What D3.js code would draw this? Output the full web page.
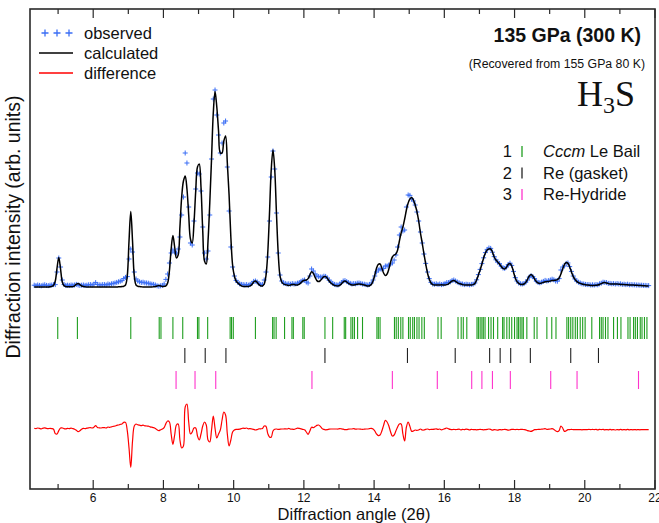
<!DOCTYPE html>
<html>
<head>
  <meta charset="utf-8" />
  <title>H3S 135 GPa Le Bail fit</title>
  <script src="https://d3js.org/d3.v7.min.js"></script>
  <style>
    body { margin: 0; background: #fff; }
    svg { display: block; font-family: "Liberation Sans", Arial, sans-serif; }
  </style>
</head>
<body>
  <svg id="chart" width="659" height="523"></svg>

  <script>
    // scan: first angle and step (deg 2θ); one value per step below
    const angleStart = 4.32;
    const angleStep = 0.05;

    // calculated profile (arb. units), one row per degree
    const calculated = [
      0,0,0,0,0,0,0,0,0,0.1,0.3,0.8,3,9.5,14.8,9,2.5,0.6,0.2,0.1,
      0.1,0.1,0.2,0.6,1.4,1.8,1.2,0.5,0.2,0.1,0,0,0,0,0,0,0,0,0,0,
      0,0,0,0,0,0,0,0,0.1,0.1,0.2,0.4,1.0,5.5,23,37.7,23,5.5,1.0,0.4,
      0.2,0.1,0,0,0,0,0,0,0.1,0.2,0.5,0.7,0.5,0.3,0.3,0.6,2,8,19,25.7,
      20,14.5,16,30,45,53,55.5,49,36,24,22,32,48,60,61.5,50,28,13,11.5,23,
      42,64,87,97.7,90,78,67,67,73,75.5,62,46,25,11,5.5,3,2,1.2,0.6,0.3,
      0.2,0.2,0.3,0.6,1.3,2.5,3,2.3,1.2,0.6,0.5,1.5,5.6,16.7,36.5,58.6,68.5,58.6,36.5,16.7,
      5.6,2.5,1.5,1.2,1,0.8,1,1.3,1.2,1,1,1.4,2.2,3,3.4,3.5,4.2,6,7.6,6.8,
      4.8,3.2,2.7,3.2,4.3,5.1,5.2,4.3,3,2,1.3,0.8,0.6,0.5,0.8,1.6,2.6,3,2.5,1.8,
      1.3,1,1,1.2,1.4,1.5,1.4,1.2,1,0.7,0.5,0.6,1.2,3,6,9.5,11.3,11.5,9.5,7,
      5.7,6.5,9,12.5,15,16,16.5,18.5,23,27,30,34,38.5,42,44,44.7,43.5,41,37.7,33,
      27,22,16.5,11.5,7,4,2,1.2,1,1,1,1,1.1,1,1,1.2,1.6,2.3,3,3.2,
      2.8,2.2,1.7,1.5,1.2,1,1,1,1,1,1.2,1.8,3.5,6,8.5,11.5,14.5,17,18.5,19,
      19,17.5,15,13.5,12.5,11.5,10.3,9.3,9,9.8,11.3,11.8,10.5,7.5,4.5,2.7,1.8,1.3,1.2,1.5,
      2.3,3.8,5.5,6.3,5.5,4,2.7,2,1.8,2,2.3,2.6,2.7,2.8,3,3.2,3.3,3.4,3.7,4.5,
      6.5,9,11.2,12.2,11.8,10,7.5,5.3,3.8,2.8,2.2,1.8,1.5,1.3,1.1,1,0.9,0.8,0.8,0.8,
      0.9,1,1.3,1.7,2.1,2.2,2,1.7,1.5,1.5,1.5,1.5,1.5,1.4,1.3,1.2,1.2,1.1,1.1,1,
      1,1,0.9,0.9,0.8,0.8,0.7,0.6,0.6,0.5,0.5
    ];

    // observed intensities on the same grid
    const observed = [
      0.9,0.7,1.0,0.8,0.6,0.9,1.1,0.8,0.7,0.9,1.0,1.2,1.2,7.5,14.5,10,3.5,1.3,0.8,0.9,
      0.8,1.0,0.9,1.0,1.3,1.0,0.8,0.9,1.0,0.8,0.9,1.1,1.2,1.0,1.4,2.2,1.3,1.1,1.0,1.2,
      1.2,1.0,1.5,1.3,1.6,1.8,2.0,2.3,2.6,2.9,3.2,4.2,4.8,5.2,14,19,17.5,7.5,4,3,
      2.6,2.3,2.4,2.1,2.0,1.9,1.6,1.4,1.3,1.0,0.6,0.4,0.6,0.8,1.5,3.8,6.5,12,17,18.5,
      17.5,17,19,25,36,45,67,62,40,22,21,33,49,57,56.5,48,30,17,14,18,
      36,64,94,98.5,86,76,67,72,82,83,60,38,20,10,5.5,3.3,2.3,1.6,1.3,1.2,
      1.0,1.2,0.9,1.3,1.8,2.8,3.0,2.5,1.8,1.2,1.3,3.5,7.5,15,33,55,68,59,37,17,
      6,3,2,1.8,1.5,1.6,1.4,1.7,1.5,1.6,1.9,2.2,2.8,3.3,3.5,2.5,2.0,5.5,9,8,
      6.5,5.5,5.2,5,5,5.4,5.3,4.5,3.4,2.5,1.8,1.3,1.1,1.0,1.5,2.2,3.0,3.2,2.7,2.2,
      1.8,1.5,1.7,1.6,1.9,2.0,1.8,1.5,1.4,1.2,1.0,1.3,2,3.5,5.5,7.5,8.5,9,9,9.3,
      10.5,10.5,11,11.5,12,13.5,16,20,26,30,28,28.5,40,46,45.8,44,43,41,37.5,33,
      27.5,22,16.5,11.8,7.5,4.2,2.3,1.5,1.4,1.6,1.3,1.5,1.2,1.4,1.7,2.2,2.2,2.6,3.2,3.5,
      3,2.5,2.1,1.6,1.5,1.2,1.4,1.3,1.1,1.3,1.4,2.0,3.6,6.2,8.8,11.7,14.6,17.2,18.8,19.5,
      19.3,17.4,15.2,13.6,12.4,11.7,10.4,9.5,9.3,10,11.2,11.9,10.8,7.8,4.7,3.0,2.0,1.6,1.5,1.7,
      2.4,3.5,5.0,5.6,5.2,4.2,2.9,2.3,2.1,2.4,2.8,3.3,3.0,3.2,3.5,3.9,3.6,3.0,2.9,4.2,
      8.5,10,10.5,11.8,12,10.2,7.8,5.5,4.0,3.0,2.4,2.0,1.6,1.5,1.3,1.2,1.2,1.0,1.1,1.0,
      1.2,1.1,1.6,1.9,2.4,2.3,2.2,1.8,1.8,1.6,1.7,1.5,1.7,1.5,1.6,1.3,1.4,1.2,1.4,1.1,
      1.2,1.1,1.1,1.0,1.0,0.9,0.9,0.8,0.8,0.7,0.7
    ];

    // reflection positions (2θ)
    const cccmPeaks = [
      4.99, 5.55, 7.07, 7.88, 7.93, 8.27, 8.55, 8.97, 9.01, 9.26, 9.90, 9.94, 9.99,
      10.62, 11.11, 11.15, 11.21, 11.45, 11.66, 11.70, 11.97, 12.01, 12.60, 12.82,
      13.15, 13.19, 13.34, 13.39, 13.44, 13.53, 13.67, 14.08, 14.12, 14.17, 14.58,
      14.63, 14.69, 14.76, 14.82, 14.98, 15.03, 15.10, 15.15, 15.22, 15.28, 15.36,
      15.43, 15.82, 15.91, 16.39, 16.48, 16.54, 16.64, 16.93, 16.97, 17.02, 17.07,
      17.11, 17.16, 17.26, 17.33, 17.40, 17.52, 17.66, 17.70, 17.78, 17.85, 17.92,
      18.00, 18.07, 18.11, 18.16, 18.21, 18.25, 18.35, 18.56, 18.64, 18.92, 19.06,
      19.18, 19.49, 19.54, 19.60, 19.66, 19.73, 19.79, 19.87, 19.94, 20.01, 20.20,
      20.42, 20.47, 20.52, 20.59, 20.66, 20.82, 20.93, 21.03, 21.23, 21.29, 21.39,
      21.44, 21.50, 21.58, 21.63, 21.70, 21.77
    ];
    const rePeaks = [8.61, 9.19, 9.78, 12.60, 14.95, 16.31, 17.29, 17.59, 17.89, 18.45, 19.60, 20.39];
    const reHydridePeaks = [8.36, 8.90, 9.49, 12.23, 14.52, 15.80, 16.78, 17.07, 17.37, 17.88, 19.03, 19.78, 21.53];

    const majorTicks = [6, 8, 10, 12, 14, 16, 18, 20, 22];
    const minorTicks = [5, 7, 9, 11, 13, 15, 17, 19, 21];

    const phaseLegend = [
      { num: "1", italic: "Cccm", rest: " Le Bail", color: "#1f9e1f" },
      { num: "2", italic: "", rest: "Re (gasket)", color: "#222" },
      { num: "3", italic: "", rest: "Re-Hydride", color: "#ff33cc" }
    ];

    const obsColor = "#3b6ef5";

    const svg = d3.select("#chart");
    const margin = { top: 9, right: 4, bottom: 34, left: 30 };
    const width = 659, height = 523;
    const innerW = width - margin.left - margin.right;
    const innerH = height - margin.top - margin.bottom;

    const x = d3.scaleLinear().domain([4.2, 22]).range([margin.left, margin.left + innerW]);
    const y = d3.scaleLinear().domain([-101, 139]).range([margin.top + innerH, margin.top]);

    const diffOffset = -71.5;
    const rowBands = [[-15, -26], [-30.5, -38], [-42, -51]];

    const pts = calculated.map((c, i) => ({
      a: angleStart + i * angleStep,
      calc: c,
      obs: observed[i]
    }));

    // observed crosses
    svg.append("g")
      .selectAll("path")
      .data(pts)
      .join("path")
      .attr("transform", d => `translate(${x(d.a)},${y(d.obs)})`)
      .attr("d", "M-2.5,0H2.5M0,-2.5V2.5")
      .attr("stroke", obsColor)
      .attr("stroke-width", 1)
      .attr("fill", "none");

    // calculated line
    svg.append("path")
      .datum(pts)
      .attr("fill", "none")
      .attr("stroke", "#000")
      .attr("stroke-width", 1.5)
      .attr("d", d3.line().curve(d3.curveCatmullRom).x(d => x(d.a)).y(d => y(d.calc)));

    // difference
    svg.append("path")
      .datum(pts)
      .attr("fill", "none")
      .attr("stroke", "#ff0000")
      .attr("stroke-width", 1.2)
      .attr("d", d3.line().curve(d3.curveCatmullRom).x(d => x(d.a)).y(d => y(d.obs - d.calc + diffOffset)));

    // reflection tick rows
    [cccmPeaks, rePeaks, reHydridePeaks].forEach((list, k) => {
      svg.append("g")
        .selectAll("line")
        .data(list)
        .join("line")
        .attr("x1", d => x(d)).attr("x2", d => x(d))
        .attr("y1", y(rowBands[k][0])).attr("y2", y(rowBands[k][1]))
        .attr("stroke", phaseLegend[k].color)
        .attr("stroke-width", 1.1);
    });

    // frame
    const frame = svg.append("g").attr("stroke", "#2a2a2a").attr("fill", "none");
    frame.append("rect")
      .attr("x", margin.left).attr("y", margin.top)
      .attr("width", innerW).attr("height", innerH)
      .attr("stroke-width", 1.6);

    // ticks inward, bottom and top
    const bottomY = margin.top + innerH;
    frame.selectAll(".tb").data(majorTicks.concat(minorTicks)).join("line")
      .attr("x1", d => x(d)).attr("x2", d => x(d))
      .attr("y1", bottomY).attr("y2", d => bottomY - (d % 2 === 0 ? 9 : 5))
      .attr("stroke-width", 1.2);
    frame.selectAll(".tt").data(majorTicks.concat(minorTicks)).join("line")
      .attr("x1", d => x(d)).attr("x2", d => x(d))
      .attr("y1", margin.top).attr("y2", d => margin.top + (d % 2 === 0 ? 9 : 5))
      .attr("stroke-width", 1.2);

    svg.append("g").selectAll("text").data(majorTicks).join("text")
      .attr("x", d => x(d)).attr("y", bottomY + 13)
      .attr("text-anchor", "middle")
      .attr("font-size", 12)
      .attr("fill", "#111")
      .text(d => d);

    svg.append("text")
      .attr("x", 354).attr("y", 519.5)
      .attr("text-anchor", "middle")
      .attr("font-size", 16.5)
      .attr("fill", "#111")
      .text("Diffraction angle (2θ)");

    svg.append("text")
      .attr("transform", "translate(20,227) rotate(-90)")
      .attr("text-anchor", "middle")
      .attr("font-size", 19.5)
      .attr("fill", "#111")
      .text("Diffraction intensity (arb. units)");

    // legend, top left
    const leg = svg.append("g");
    [45, 57, 69].forEach(cx => {
      leg.append("path")
        .attr("transform", `translate(${cx},33)`)
        .attr("d", "M-3.5,0H3.5M0,-3.5V3.5")
        .attr("stroke", obsColor).attr("stroke-width", 1.3);
    });
    leg.append("line").attr("x1", 39).attr("x2", 73).attr("y1", 53).attr("y2", 53)
      .attr("stroke", "#000").attr("stroke-width", 1.5);
    leg.append("line").attr("x1", 39).attr("x2", 73).attr("y1", 73).attr("y2", 73)
      .attr("stroke", "#ff0000").attr("stroke-width", 1.5);
    ["observed", "calculated", "difference"].forEach((t, i) => {
      leg.append("text")
        .attr("x", 84).attr("y", 39 + i * 20)
        .attr("font-size", 16.5)
        .attr("fill", "#111")
        .text(t);
    });

    // title block, top right
    svg.append("text")
      .attr("x", 641).attr("y", 42)
      .attr("text-anchor", "end")
      .attr("font-size", 19.5)
      .attr("font-weight", "bold")
      .attr("fill", "#111")
      .text("135 GPa (300 K)");
    svg.append("text")
      .attr("x", 645).attr("y", 68)
      .attr("text-anchor", "end")
      .attr("font-size", 12.3)
      .attr("fill", "#111")
      .text("(Recovered from 155 GPa 80 K)");

    const h3s = svg.append("text")
      .attr("x", 635).attr("y", 106)
      .attr("text-anchor", "end")
      .attr("font-family", "'Liberation Serif', 'Times New Roman', serif")
      .attr("font-size", 36)
      .attr("fill", "#111");
    h3s.append("tspan").text("H");
    h3s.append("tspan").attr("font-size", 24).attr("dy", 7).text("3");
    h3s.append("tspan").attr("dy", -7).text("S");

    // phase legend
    phaseLegend.forEach((p, i) => {
      const by = 157 + i * 21.5;
      svg.append("text")
        .attr("x", 512).attr("y", by)
        .attr("text-anchor", "end")
        .attr("font-size", 16.5)
        .attr("fill", "#111")
        .text(p.num);
      svg.append("line")
        .attr("x1", 522).attr("x2", 522)
        .attr("y1", by - 11).attr("y2", by)
        .attr("stroke", p.color).attr("stroke-width", 1.3);
      const t = svg.append("text")
        .attr("x", 543).attr("y", by)
        .attr("font-size", 16.5)
        .attr("fill", "#111");
      if (p.italic) t.append("tspan").attr("font-style", "italic").text(p.italic);
      t.append("tspan").text(p.rest);
    });
  </script>
</body>
</html>
